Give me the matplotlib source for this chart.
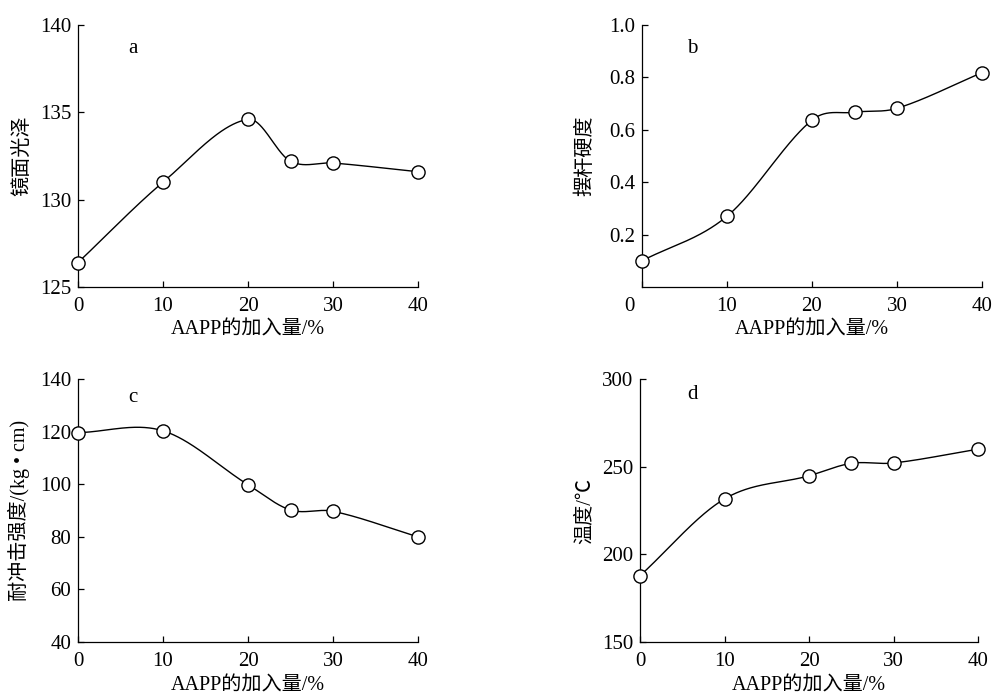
import numpy as np
import matplotlib
matplotlib.use("Agg")
import matplotlib.pyplot as plt
from matplotlib.transforms import ScaledTranslation

plt.rcParams['font.family'] = ['Liberation Serif', 'Noto Sans CJK SC', 'DejaVu Sans']
plt.rcParams['axes.unicode_minus'] = False

# ---- data ----
aapp = [0, 10, 20, 25, 30, 40]
gloss = [126.4, 131.0, 134.6, 132.2, 132.1, 131.6]
hardness = [0.10, 0.27, 0.637, 0.667, 0.682, 0.818]
impact = [119.6, 120.3, 99.8, 90.2, 89.7, 80.0]
temperature = [187.8, 231.6, 244.8, 251.9, 252.1, 260.0]

xlabel = "AAPP的加入量/%"
ylabels = ["镜面光泽", "摆杆硬度", "耐冲击强度/(kg • cm)", "温度/℃"]
panel_tags = ["a", "b", "c", "d"]
yticks_list = [[125, 130, 135, 140], [0.2, 0.4, 0.6, 0.8, 1.0],
               [40, 60, 80, 100, 120, 140], [150, 200, 250, 300]]
ylims = [(125, 140), (0.0, 1.0), (40, 140), (150, 300)]
xticks = [0, 10, 20, 30, 40]


def hermite_curve(x, y, xs):
    """Cubic Hermite curve through the points with finite-difference tangents."""
    x = np.asarray(x, float)
    y = np.asarray(y, float)
    n = len(x)
    m = np.empty(n)
    m[0] = (y[1] - y[0]) / (x[1] - x[0])
    m[-1] = (y[-1] - y[-2]) / (x[-1] - x[-2])
    for i in range(1, n - 1):
        m[i] = (y[i + 1] - y[i - 1]) / (x[i + 1] - x[i - 1])
    out = np.empty_like(xs)
    for k, t in enumerate(xs):
        i = min(max(np.searchsorted(x, t) - 1, 0), n - 2)
        h = x[i + 1] - x[i]
        s = (t - x[i]) / h
        h00 = 2 * s**3 - 3 * s**2 + 1
        h10 = s**3 - 2 * s**2 + s
        h01 = -2 * s**3 + 3 * s**2
        h11 = s**3 - s**2
        out[k] = h00 * y[i] + h10 * h * m[i] + h01 * y[i + 1] + h11 * h * m[i + 1]
    return out


W, H = 994, 697
fig = plt.figure(figsize=(W / 100, H / 100), dpi=100)

# axes boxes in pixels: left, right, top, bottom
boxes = [(78, 418, 25, 287), (642, 982, 25, 287),
         (78, 418, 379, 642), (640, 978, 379, 642)]
series = [gloss, hardness, impact, temperature]
tag_pos = [(0.162, 0.91), (0.147, 0.91), (0.162, 0.93), (0.154, 0.94)]
ylab_off = [-46, -47, -48, -45]

fs = 15
for k in range(4):
    l, r, t, bt = boxes[k]
    ax = fig.add_axes([l / W, 1 - bt / H, (r - l) / W, (bt - t) / H])
    xs = np.linspace(0, 40, 801)
    ax.plot(xs, hermite_curve(aapp, series[k], xs), color='black', lw=1.0, zorder=2)
    ax.plot(aapp, series[k], 'o', ms=9.5, mfc='white', mec='black', mew=1.0,
            zorder=3, clip_on=False)
    ax.set_xlim(0, 40)
    ax.set_ylim(*ylims[k])
    ax.set_xticks(xticks)
    ax.set_yticks(yticks_list[k])
    if k == 1:
        ax.set_yticklabels(["0.2", "0.4", "0.6", "0.8", "1.0"])
    ax.spines['top'].set_visible(False)
    ax.spines['right'].set_visible(False)
    for s in ['left', 'bottom']:
        ax.spines[s].set_linewidth(0.9)
    ax.tick_params(direction='in', length=4, width=0.9, labelsize=fs)
    ax.tick_params(axis='y', pad=5)
    ax.tick_params(axis='x', pad=7)
    ax.set_xlabel(xlabel, fontsize=14.5)
    ax.set_ylabel(ylabels[k], fontsize=14.5)
    ax.xaxis.set_label_coords(0.5, (-34 if k < 2 else -35) / (bt - t))
    ax.yaxis.set_label_coords(ylab_off[k] / (r - l), 0.5)
    ax.text(tag_pos[k][0], tag_pos[k][1], panel_tags[k], transform=ax.transAxes,
            fontsize=15, ha='center', va='center')
    if k == 1:
        fig.canvas.draw()
        lab0 = ax.get_xticklabels()[0]
        lab0.set_transform(lab0.get_transform() +
                           ScaledTranslation(-13 / 100, 0, fig.dpi_scale_trans))

fig.savefig("out.png", dpi=100)
